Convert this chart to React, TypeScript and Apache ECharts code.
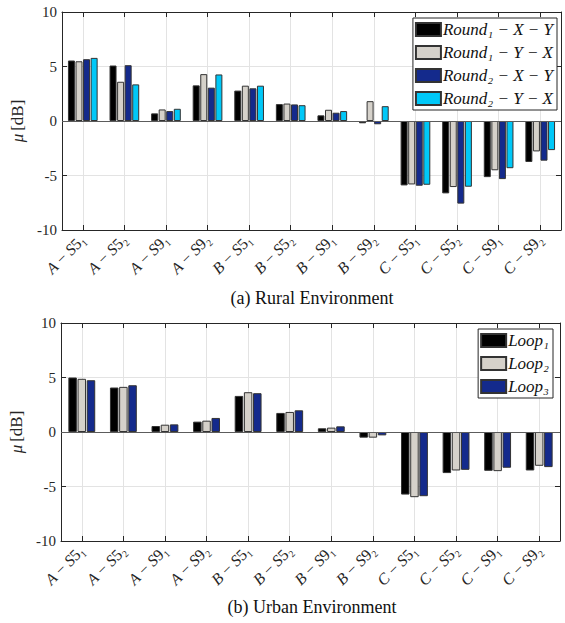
import React, { useEffect, useRef } from "react";
import * as echarts from "echarts";

// Site/pair labels, shared by both panels
const categories = [
  ["A", "5", "₁"], ["A", "5", "₂"], ["A", "9", "₁"], ["A", "9", "₂"],
  ["B", "5", "₁"], ["B", "5", "₂"], ["B", "9", "₁"], ["B", "9", "₂"],
  ["C", "5", "₁"], ["C", "5", "₂"], ["C", "9", "₁"], ["C", "9", "₂"],
];
const categoryKeys = categories.map((c) => c.join(""));

// (a) Rural environment, mean μ [dB]
const ruralNames = ["Round₁ − X − Y", "Round₁ − Y − X", "Round₂ − X − Y", "Round₂ − Y − X"];
const rural1XY = [5.55, 5.09, 0.7, 3.27, 2.79, 1.55, 0.52, -0.21, -5.91, -6.64, -5.15, -3.76];
const rural1YX = [5.48, 3.6, 1.06, 4.3, 3.24, 1.6, 1.03, 1.82, -5.82, -6.06, -4.52, -2.79];
const rural2XY = [5.67, 5.12, 0.91, 3.06, 3.0, 1.52, 0.76, -0.3, -5.94, -7.58, -5.33, -3.64];
const rural2YX = [5.79, 3.36, 1.12, 4.27, 3.24, 1.45, 0.91, 1.36, -5.85, -6.03, -4.33, -2.67];

// (b) Urban environment, mean μ [dB]
const urbanNames = ["Loop₁", "Loop₂", "Loop₃"];
const urbanLoop1 = [5.0, 4.08, 0.55, 0.95, 3.31, 1.75, 0.34, -0.52, -5.74, -3.77, -3.56, -3.53];
const urbanLoop2 = [4.88, 4.14, 0.67, 1.04, 3.65, 1.84, 0.4, -0.52, -5.98, -3.53, -3.59, -3.1];
const urbanLoop3 = [4.75, 4.29, 0.7, 1.29, 3.56, 1.99, 0.52, -0.31, -5.89, -3.47, -3.28, -3.22];

const yTicks = { min: -10, max: 10, interval: 5 };

const FONT = "Liberation Serif";
const INK = "#262626";
const GRIDLINE = "#e3e3e3";
const barColors = ["#000000", "#d5d1ca", "#142a8c", "#00c8f8"];
const EDGE = "#333333";

export default function App() {
  const ref = useRef<HTMLDivElement>(null);

  useEffect(() => {
    if (!ref.current) return;
    const chart = echarts.init(ref.current, undefined, { renderer: "svg" });

    const grids = [
      { left: 62, top: 12, width: 499, height: 218 },
      { left: 61, top: 323, width: 499, height: 218 },
    ];

    const xLabelRich = {
      i: { fontFamily: FONT, fontStyle: "italic", fontSize: 16, color: INK },
      n: { fontFamily: FONT, fontSize: 16, color: INK },
    };

    const bottomX = (gridIndex: number) => ({
      type: "category",
      gridIndex,
      data: categoryKeys,
      position: "bottom",
      axisLine: { show: true, onZero: false, lineStyle: { color: INK, width: 1 } },
      axisTick: { show: true, inside: true, alignWithLabel: true, length: 5, lineStyle: { color: INK } },
      splitLine: { show: true, alignWithLabel: true, lineStyle: { color: GRIDLINE, width: 1 } },
      axisLabel: {
        interval: 0,
        rotate: 45,
        margin: 7,
        fontFamily: FONT,
        formatter: (_v: string, idx: number) => {
          const [site, num, sub] = categories[idx];
          return `{i|${site}}{n| − }{i|S}{n|${num}${sub}}`;
        },
        rich: xLabelRich,
      },
    });

    const topX = (gridIndex: number) => ({
      type: "category",
      gridIndex,
      data: categoryKeys,
      position: "top",
      axisLine: { show: true, onZero: false, lineStyle: { color: INK, width: 1 } },
      axisTick: { show: true, inside: true, alignWithLabel: true, length: 5, lineStyle: { color: INK } },
      axisLabel: { show: false },
      splitLine: { show: false },
    });

    const leftY = (gridIndex: number) => ({
      type: "value",
      gridIndex,
      ...yTicks,
      position: "left",
      name: "{i|μ} {n|[dB]}",
      nameLocation: "middle",
      nameRotate: 90,
      nameGap: 20,
      nameTextStyle: {
        fontFamily: FONT,
        rich: {
          i: { fontFamily: FONT, fontStyle: "italic", fontSize: 17, color: INK },
          n: { fontFamily: FONT, fontSize: 17, color: INK },
        },
      },
      axisLine: { show: true, lineStyle: { color: INK, width: 1 } },
      axisTick: { show: true, inside: true, length: 5, lineStyle: { color: INK } },
      axisLabel: { fontFamily: FONT, fontSize: 15, color: INK, margin: 5 },
      splitLine: { show: true, lineStyle: { color: GRIDLINE, width: 1 } },
    });

    const rightY = (gridIndex: number) => ({
      type: "value",
      gridIndex,
      ...yTicks,
      position: "right",
      axisLine: { show: true, lineStyle: { color: INK, width: 1 } },
      axisTick: { show: true, inside: true, length: 5, lineStyle: { color: INK } },
      axisLabel: { show: false },
      splitLine: { show: false },
    });

    const zeroLine = {
      silent: true,
      symbol: "none",
      label: { show: false },
      lineStyle: { color: "#5c5c5c", width: 1, type: "solid" },
      data: [{ yAxis: 0 }],
    };

    const ruralData = [rural1XY, rural1YX, rural2XY, rural2YX];
    const urbanData = [urbanLoop1, urbanLoop2, urbanLoop3];

    const ruralSeries = ruralData.map((d, k) => ({
      type: "bar",
      name: ruralNames[k],
      xAxisIndex: 0,
      yAxisIndex: 0,
      data: d,
      barWidth: 7,
      barGap: "8%",
      itemStyle: { color: barColors[k], borderColor: EDGE, borderWidth: 1 },
      ...(k === 0 ? { markLine: zeroLine } : {}),
    }));

    const urbanSeries = urbanData.map((d, k) => ({
      type: "bar",
      name: urbanNames[k],
      xAxisIndex: 2,
      yAxisIndex: 2,
      data: d,
      barWidth: 8.5,
      barGap: "8%",
      itemStyle: { color: barColors[k], borderColor: EDGE, borderWidth: 1 },
      ...(k === 0 ? { markLine: zeroLine } : {}),
    }));

    const legendBase = {
      orient: "vertical",
      backgroundColor: "#ffffff",
      borderColor: INK,
      borderWidth: 1,
      borderRadius: 0,
      padding: [3, 4, 3, 2],
      itemGap: 6,
      itemWidth: 25,
      itemHeight: 13,
      icon: "rect",
      selectedMode: false,
      textStyle: { fontFamily: FONT, fontStyle: "italic", fontSize: 17, color: "#111", padding: [0, 0, 0, -3] },
    };

    chart.setOption({
      animation: false,
      backgroundColor: "#ffffff",
      textStyle: { fontFamily: FONT },
      grid: grids,
      xAxis: [bottomX(0), topX(0), bottomX(1), topX(1)],
      yAxis: [leftY(0), rightY(0), leftY(1), rightY(1)],
      legend: [
        { ...legendBase, data: ruralNames, right: 8, top: 18 },
        { ...legendBase, data: urbanNames, right: 12, top: 329 },
      ],
      series: [...ruralSeries, ...urbanSeries],
      graphic: [
        {
          type: "text",
          x: 312,
          y: 298,
          style: {
            text: "(a) Rural Environment",
            fontFamily: FONT,
            fontSize: 18,
            fill: "#111",
            textAlign: "center",
            textVerticalAlign: "middle",
          },
        },
        {
          type: "text",
          x: 312,
          y: 607,
          style: {
            text: "(b) Urban Environment",
            fontFamily: FONT,
            fontSize: 18,
            fill: "#111",
            textAlign: "center",
            textVerticalAlign: "middle",
          },
        },
      ],
    });

    return () => chart.dispose();
  }, []);

  return (
    <div
      ref={ref}
      style={{ position: "fixed", left: 0, top: 0, width: 565, height: 623, background: "#fff" }}
    />
  );
}
